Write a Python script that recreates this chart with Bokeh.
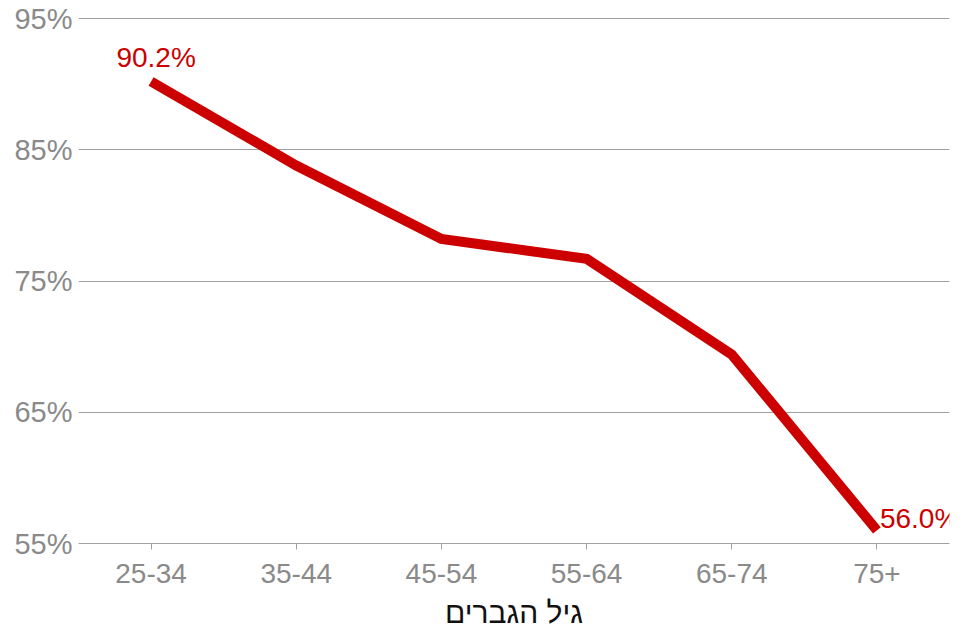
from bokeh.plotting import figure
from bokeh.models import ColumnDataSource, FixedTicker, CustomJSTickFormatter, Label
from bokeh.embed import file_html
from bokeh.resources import INLINE

age_groups = ["25-34", "35-44", "45-54", "55-64", "65-74", "75+"]
share = [90.2, 83.8, 78.2, 76.7, 69.4, 56.0]
y_ticks = [55, 65, 75, 85, 95]
x_title = "גיל הגברים"

RED = "#cc0000"
GRAY = "#8a8a8a"
GRID = "#a0a0a0"
FONT = "Liberation Sans"

src = ColumnDataSource(dict(x=age_groups, y=share))

p = figure(x_range=age_groups, y_range=(55, 95.08), width=966, height=632,
           output_backend="svg", toolbar_location=None,
           min_border_left=78, min_border_right=17, min_border_top=17, min_border_bottom=89)
p.outline_line_color = None
p.background_fill_color = "white"
p.border_fill_color = "white"
p.x_range.range_padding = 0

p.line("x", "y", source=src, line_color=RED, line_width=10, line_join="miter", line_cap="butt")

# synthetic categorical coordinates (factor index + 0.5)
first_x = age_groups.index(age_groups[0]) + 0.5
last_x = age_groups.index(age_groups[-1]) + 0.5
p.add_layout(Label(x=first_x, y=share[0], text=f"{share[0]:.1f}%", text_color=RED,
                   text_font=FONT, text_font_size="28px", text_align="center",
                   text_baseline="bottom", x_offset=5, y_offset=9))
p.add_layout(Label(x=last_x, y=share[-1], text=f"{share[-1]:.1f}%", text_color=RED,
                   text_font=FONT, text_font_size="28px", text_align="left",
                   text_baseline="middle", x_offset=3, y_offset=12))

# y axis
p.yaxis.ticker = FixedTicker(ticks=y_ticks)
p.yaxis.formatter = CustomJSTickFormatter(code="return tick + '%';")
p.yaxis.axis_line_color = None
p.yaxis.major_tick_line_color = None
p.yaxis.minor_tick_line_color = None
p.yaxis.major_label_text_color = GRAY
p.yaxis.major_label_text_font = FONT
p.yaxis.major_label_text_font_size = "29px"
p.yaxis.major_label_standoff = 0

# x axis
p.xaxis.axis_line_color = GRID
p.xaxis.major_tick_line_color = GRID
p.xaxis.major_tick_in = 0
p.xaxis.major_tick_out = 6
p.xaxis.major_label_text_color = GRAY
p.xaxis.major_label_text_font = FONT
p.xaxis.major_label_text_font_size = "28px"
p.xaxis.major_label_standoff = 14
p.xaxis.axis_label = x_title
p.xaxis.axis_label_text_font = FONT
p.xaxis.axis_label_text_font_style = "normal"
p.xaxis.axis_label_text_font_size = "30px"
p.xaxis.axis_label_text_color = "#111111"
p.xaxis.axis_label_standoff = 10

p.xgrid.grid_line_color = None
p.ygrid.grid_line_color = GRID
p.ygrid.grid_line_width = 1

open("out.html", "w").write(file_html(p, INLINE))
